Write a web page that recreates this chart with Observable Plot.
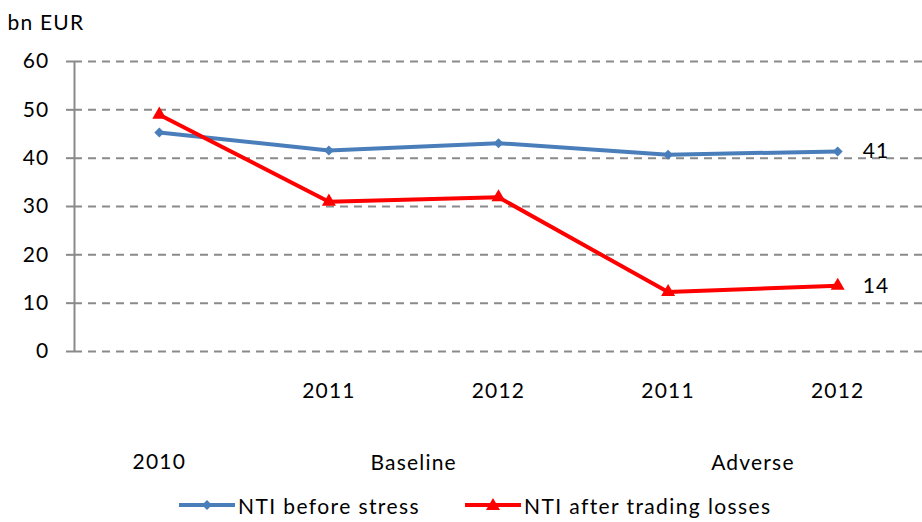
<!DOCTYPE html>
<html>
<head>
<meta charset="utf-8">
<script src="https://cdn.jsdelivr.net/npm/d3@7"></script>
<script src="https://cdn.jsdelivr.net/npm/@observablehq/plot@0.6"></script>
<style>
  html, body { margin: 0; padding: 0; background: #fff; }
  body { width: 922px; height: 522px; overflow: hidden; font-family: Lato, "Open Sans", sans-serif; }
  #chart svg { display: block; }
  #chart svg text { letter-spacing: 1.2px; }
  #legend { position: relative; height: 34px; font-size: 21px; letter-spacing: 1.4px; color: #000; }
  .item { position: absolute; top: 0; height: 34px; display: flex; align-items: center; white-space: nowrap; }
  .item svg { margin-right: 3px; }
</style>
</head>
<body>
<div id="chart"></div>
<div id="legend"></div>
<script>
// ---- data ----
const years = ["2010", "2011", "2012", "2011", "2012"];
const scenarios = ["", "Baseline", "Baseline", "Adverse", "Adverse"];
const ntiBefore = [45.3, 41.6, 43.1, 40.7, 41.4];
const ntiAfter = [49.0, 31.0, 31.9, 12.3, 13.6];
const seriesNames = ["NTI before stress", "NTI after trading losses"];
const seriesColors = ["#4a7ebb", "#ff0000"];
const yTicks = [0, 10, 20, 30, 40, 50, 60];
const unitLabel = "bn EUR";

// ---- derived tables ----
const idx = years.map((_, i) => i);
const xDomain = [-0.5, idx.length - 0.5];
const yDomain = d3.extent(yTicks);
const before = idx.map(i => ({i, v: ntiBefore[i]}));
const after = idx.map(i => ({i, v: ntiAfter[i]}));
const yearRow = idx.map(i => ({i, label: years[i], grouped: scenarios[i] !== ""}));
const groupNames = [...new Set(scenarios.filter(s => s))];
const groupRow = groupNames.map(g => ({i: d3.mean(idx.filter(i => scenarios[i] === g)), label: g}));
const ends = [
  {i: idx.length - 1, v: ntiBefore[ntiBefore.length - 1]},
  {i: idx.length - 1, v: ntiAfter[ntiAfter.length - 1]}
];

const font = "Lato, 'Open Sans', sans-serif";
const grey = "#8a8a8a";
const chart = Plot.plot({
  width: 922,
  height: 488,
  marginTop: 61,
  marginBottom: 137,
  marginLeft: 74,
  marginRight: 0,
  style: {fontFamily: font, fontSize: "21px", color: "#000", background: "#fff"},
  x: {type: "linear", domain: xDomain, axis: null},
  y: {domain: yDomain, ticks: yTicks},
  marks: [
    Plot.ruleY(yTicks, {stroke: grey, strokeWidth: 2, strokeDasharray: "8,6"}),
    Plot.axisY({ticks: yTicks, tickSize: 8, tickPadding: 17, stroke: grey, strokeWidth: 2, strokeOpacity: 1, label: null, fontSize: 21, fill: "#000"}),
    Plot.ruleX([xDomain[0]], {y1: yDomain[0], y2: yDomain[1], stroke: grey, strokeWidth: 2}),
    Plot.line(before, {x: "i", y: "v", stroke: seriesColors[0], strokeWidth: 4}),
    Plot.dot(before, {x: "i", y: "v", symbol: "diamond2", r: 4.5, fill: seriesColors[0], stroke: "none"}),
    Plot.line(after, {x: "i", y: "v", stroke: seriesColors[1], strokeWidth: 4}),
    Plot.dot(after, {x: "i", y: "v", symbol: "triangle", r: 5.2, fill: seriesColors[1], stroke: "none"}),
    Plot.text(ends, {x: "i", y: "v", text: d => String(Math.round(d.v)), textAnchor: "start", dx: 25, fontSize: 21, fill: "#000"}),
    Plot.text(yearRow.filter(d => d.grouped), {x: "i", frameAnchor: "bottom", text: "label", dy: 46, fontSize: 21, fill: "#000"}),
    Plot.text(yearRow.filter(d => !d.grouped), {x: "i", frameAnchor: "bottom", text: "label", dy: 117, fontSize: 21, fill: "#000"}),
    Plot.text(groupRow, {x: "i", frameAnchor: "bottom", text: "label", dy: 118, fontSize: 21, fill: "#000"}),
    Plot.text([unitLabel], {frameAnchor: "top-left", text: d => d, textAnchor: "start", dx: -67, dy: -46, fontSize: 21, fill: "#000"})
  ]
});
document.getElementById("chart").appendChild(chart);

// ---- legend ----
const legend = document.getElementById("legend");
const legendLeft = [179, 465];
seriesNames.forEach((name, k) => {
  const item = document.createElement("div");
  item.className = "item";
  item.style.left = legendLeft[k] + "px";
  const marker = k === 0
    ? `<path d="M28,1 L33,6 L28,11 L23,6 Z" fill="${seriesColors[k]}"/>`
    : `<path d="M28,-1 L35,11 L21,11 Z" fill="${seriesColors[k]}"/>`;
  item.innerHTML = `<svg width="56" height="12" viewBox="0 0 56 12" style="overflow:visible"><line x1="0" x2="56" y1="6" y2="6" stroke="${seriesColors[k]}" stroke-width="4"/>${marker}</svg><span>${name}</span>`;
  legend.appendChild(item);
});
</script>
</body>
</html>
